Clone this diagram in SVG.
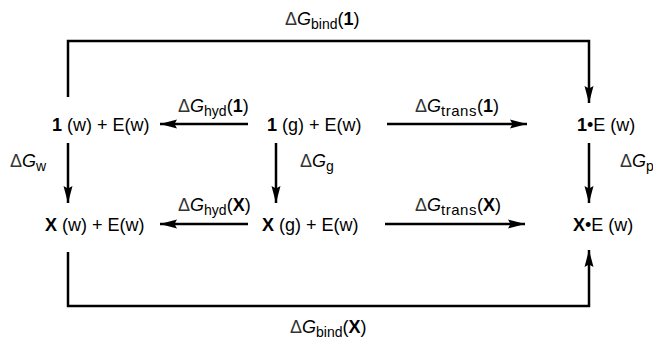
<svg xmlns="http://www.w3.org/2000/svg" width="653" height="339" viewBox="0 0 653 339">
<style>
text{font-family:"Liberation Sans",Arial,sans-serif;font-size:18px;fill:#000}
.b{font-weight:bold}
.i{font-style:italic}
.s{font-size:14px}
.t{font-size:15px;letter-spacing:0.5px}
.d{fill:#333}
.ln{fill:none;stroke:#000;stroke-width:2.5}
</style>
<defs>
<marker id="ah" markerUnits="userSpaceOnUse" markerWidth="18" markerHeight="12" refX="17" refY="6" orient="auto" viewBox="0 0 18 12">
<path d="M0,1.5 L17,6 L0,10.5 L2.5,6 Z" fill="#000"/>
</marker>
</defs>
<rect width="653" height="339" fill="#fff"/>
<g id="connectors">
<path class="ln" d="M68,97 V41 H589 V103" marker-end="url(#ah)"/>
<path class="ln" d="M68,252 V306 H589 V250" marker-end="url(#ah)"/>
<line class="ln" x1="248" y1="124" x2="160" y2="124" marker-end="url(#ah)"/>
<line class="ln" x1="387" y1="124" x2="527" y2="124" marker-end="url(#ah)"/>
<line class="ln" x1="248" y1="224" x2="160" y2="224" marker-end="url(#ah)"/>
<line class="ln" x1="385" y1="224" x2="525" y2="224" marker-end="url(#ah)"/>
<line class="ln" x1="68" y1="143" x2="68" y2="203" marker-end="url(#ah)"/>
<line class="ln" x1="276" y1="143" x2="276" y2="203" marker-end="url(#ah)"/>
<line class="ln" x1="589" y1="143" x2="589" y2="203" marker-end="url(#ah)"/>
<text x="285" y="25"><tspan class="d">Δ</tspan><tspan class="i">G</tspan><tspan class="s" dy="4">bind</tspan><tspan dy="-4">(</tspan><tspan class="b">1</tspan>)</text>
<text x="290" y="333"><tspan class="d">Δ</tspan><tspan class="i">G</tspan><tspan class="s" dy="4">bind</tspan><tspan dy="-4">(</tspan><tspan class="b">X</tspan>)</text>
<text x="178" y="112"><tspan class="d">Δ</tspan><tspan class="i">G</tspan><tspan class="s" dy="4">hyd</tspan><tspan dy="-4">(</tspan><tspan class="b">1</tspan>)</text>
<text x="178" y="211"><tspan class="d">Δ</tspan><tspan class="i">G</tspan><tspan class="s" dy="4">hyd</tspan><tspan dy="-4">(</tspan><tspan class="b">X</tspan>)</text>
<text x="415" y="112"><tspan class="d">Δ</tspan><tspan class="i">G</tspan><tspan class="t" dy="4">trans</tspan><tspan dy="-4">(</tspan><tspan class="b">1</tspan>)</text>
<text x="415" y="211"><tspan class="d">Δ</tspan><tspan class="i">G</tspan><tspan class="t" dy="4">trans</tspan><tspan dy="-4">(</tspan><tspan class="b">X</tspan>)</text>
<text x="10" y="167"><tspan class="d">Δ</tspan><tspan class="i">G</tspan><tspan class="s" dy="4">w</tspan></text>
<text x="300" y="167"><tspan class="d">Δ</tspan><tspan class="i">G</tspan><tspan class="s" dy="4">g</tspan></text>
<text x="620" y="167"><tspan class="d">Δ</tspan><tspan class="i">G</tspan><tspan class="s" dy="4">p</tspan></text>
</g>
<g id="n1w"><text x="52" y="131"><tspan class="b">1</tspan> (w) + E(w)</text></g>
<g id="n1g"><text x="267" y="131"><tspan class="b">1</tspan> (g) + E(w)</text></g>
<g id="n1E"><text x="577" y="131"><tspan class="b">1</tspan>•E (w)</text></g>
<g id="nXw"><text x="45" y="231"><tspan class="b">X</tspan> (w) + E(w)</text></g>
<g id="nXg"><text x="262" y="231"><tspan class="b">X</tspan> (g) + E(w)</text></g>
<g id="nXE"><text x="573" y="231"><tspan class="b">X</tspan>•E (w)</text></g>
</svg>
